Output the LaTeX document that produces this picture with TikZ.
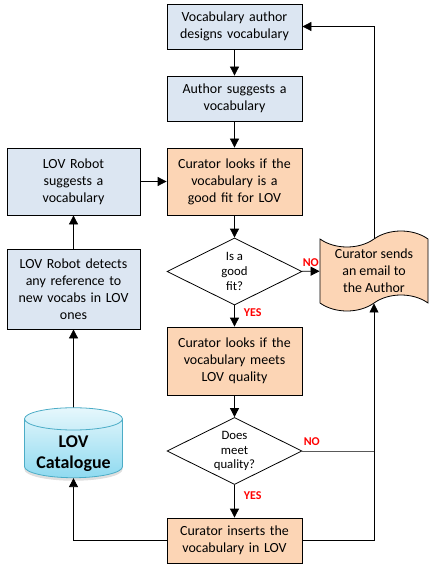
\documentclass[tikz,border=0pt]{standalone}
\usepackage{fontspec}
\setmainfont{Carlito}
\usetikzlibrary{arrows.meta,shapes.geometric,shapes.symbols,shadows}

\definecolor{boxblue}{HTML}{DCE6F2}
\definecolor{boxorange}{HTML}{FCD5B5}
\definecolor{dbedge}{HTML}{4BACC6}
\definecolor{dbtop}{HTML}{E6F7FC}
\definecolor{dbbottom}{HTML}{8FDAF0}

\tikzset{
  stepblue/.style={draw, fill=boxblue, minimum width=135bp, minimum height=45bp,
    text width=128bp, align=center, inner sep=1bp, font=\fontsize{14}{17}\selectfont},
  steporange/.style={stepblue, fill=boxorange},
  check/.style={draw, diamond, fill=white, aspect=2, inner sep=0pt,
    minimum width=135bp, minimum height=67bp, align=center,
    font=\fontsize{12.8}{14.7}\selectfont},
  answer/.style={text=red, inner sep=0pt, font=\bfseries\fontsize{12}{14}\selectfont},
  store/.style={cylinder, shape border rotate=90, aspect=0.3, draw=dbedge,
    top color=dbtop, bottom color=dbbottom, minimum width=98bp, minimum height=70bp,
    inner sep=0pt, font=\bfseries\fontsize{18}{21}\selectfont,
    drop shadow={opacity=0.25, shadow xshift=0bp, shadow yshift=-3bp}},
  mail/.style={tape, draw, fill=boxorange, minimum width=108bp, minimum height=80bp,
    tape bend height=16bp, align=center, inner sep=1bp, font=\fontsize{14}{17}\selectfont},
  flow/.style={-{Triangle[length=9bp,width=9bp]}},
}

\begin{document}
\begin{tikzpicture}[x=1bp,y=-1bp,line width=0.8bp]
\useasboundingbox (0,0) rectangle (433,568);

% main column
\node[stepblue] (design) at (234.5,26.5) {Vocabulary author\\designs vocabulary};
\node[stepblue] (suggest) at (234.5,98.5) {Author suggests a\\vocabulary};
\node[steporange, minimum height=67bp] (fit) at (234.5,181.5) {Curator looks if the\\vocabulary is a\\good fit for LOV};
\node[check] (isfit) at (234.5,271.5) {Is a\\good\\fit?};
\node[steporange, minimum height=68bp] (quality) at (234.5,361) {Curator looks if the\\vocabulary meets\\LOV quality};
\node[check] (meets) at (234.5,451) {Does\\meet\\quality?};
\node[steporange] (insert) at (234.5,540.5) {Curator inserts the\\vocabulary in LOV};

% robot column
\node[stepblue, minimum width=133bp, text width=126bp, minimum height=67bp] (robot) at (73.5,181.5) {LOV Robot\\suggests a\\vocabulary};
\node[stepblue, minimum width=133bp, text width=126bp, minimum height=80bp] (detect) at (73.5,289) {LOV Robot detects\\any reference to\\new vocabs in LOV\\ones};
\node[store] (catalogue) at (73.5,448.5) {\raisebox{-9.5bp}[0pt][0pt]{\begin{tabular}{@{}c@{}}LOV\\Catalogue\end{tabular}}};

% email
\node[mail] (email) at (374,271) {Curator sends\\an email to\\the Author};
\coordinate (merge) at (meets.east -| email.south);

% arrows
\draw[flow] (design) -- (suggest);
\draw[flow] (suggest) -- (fit);
\draw[flow] (fit) -- (isfit);
\draw[flow] (isfit) -- (quality) node[answer, right=9bp, pos=0.36] {YES};
\draw[flow] (isfit) -- (email) node[answer, above=4bp, pos=0.5] {NO};
\draw[flow] (quality) -- (meets);
\draw[flow] (meets) -- (insert) node[answer, right=9bp, pos=0.32] {YES};
\draw[black!65] (meets) -- (merge) node[answer, anchor=south west, pos=0, xshift=1bp, yshift=5bp] {NO};
\draw[flow] (insert) -| (email.south);
\draw[flow] (email.north) |- (design);
\draw[flow] (insert) -| (catalogue.south);
\draw[flow] (catalogue) -- (detect);
\draw[flow] (detect) -- (robot);
\draw[flow] (robot) -- (fit);
\end{tikzpicture}
\end{document}
